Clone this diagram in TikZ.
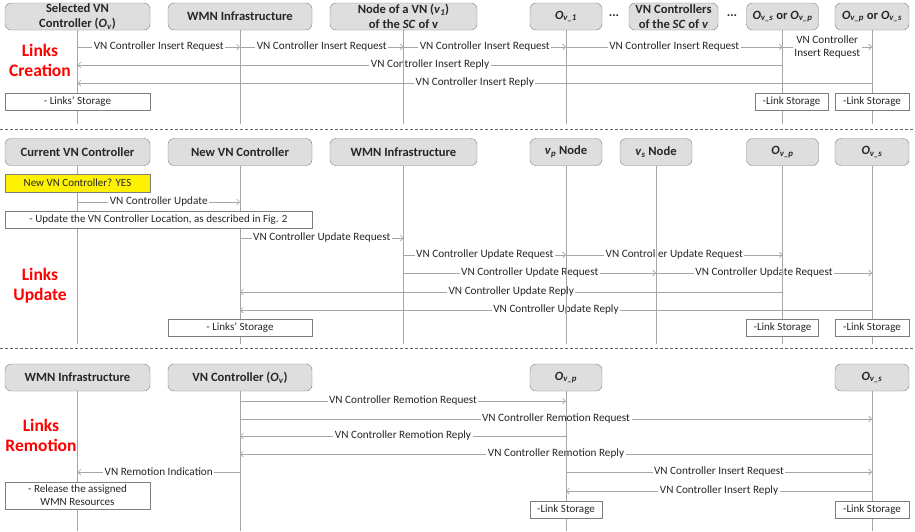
\documentclass[tikz,border=0pt]{standalone}
\usepackage{fontspec}
\setmainfont{Carlito}
\usetikzlibrary{arrows.meta}
\definecolor{hdrfill}{HTML}{DEDEDE}
\definecolor{linegray}{HTML}{A6A6A6}
\definecolor{boxline}{HTML}{7F7F7F}
\definecolor{txtgray}{HTML}{262626}
\tikzset{
  hdr/.style={draw=boxline, fill=hdrfill, rounded corners=6pt, minimum height=27pt, align=center, inner xsep=1pt, inner ysep=0pt, text=txtgray, font=\bfseries\fontsize{12.6}{14.5}\selectfont},
  note/.style={draw=boxline, fill=white, minimum height=17pt, align=center, inner xsep=1pt, inner ysep=0pt, text=txtgray, font=\fontsize{11}{13}\selectfont},
  life/.style={draw=linegray, line width=0.8pt},
  msg/.style={draw=linegray, line width=0.6pt, -{Straight Barb[length=3pt,width=6pt]}},
  lbl/.style={fill=white, inner xsep=1.5pt, inner ysep=0.5pt, text=txtgray, font=\fontsize{11.2}{12.5}\selectfont},
  phase/.style={text=red, align=center, font=\bfseries\fontsize{17.5}{20}\selectfont},
  sep/.style={draw=black!60, dash pattern=on 3pt off 2pt, line width=0.6pt}
}
\newcommand{\Ov}[1]{\textit{O}\textsubscript{\textit{#1}}}
\begin{document}
\begin{tikzpicture}[x=1pt,y=-1pt]
    \useasboundingbox (0,0) rectangle (915,531);
    % links creation
    \node[hdr, minimum width=145pt] (sel) at (77.5,16.5) {Selected VN\\Controller (\Ov{v})};
    \node[hdr, minimum width=144pt] (wmnA) at (240,16.5) {WMN Infrastructure};
    \node[hdr, minimum width=147pt] (vnA) at (403.5,16.5) {Node of a VN (\textit{v}\textsubscript{\textit{1}})\\of the \textit{SC} of v};
    \node[hdr, minimum width=72pt] (ovA) at (566,16.5) {\Ov{v\_1}};
    \node[text=txtgray, font=\bfseries\fontsize{13}{14}\selectfont] (dotA) at (614,16) {...};
    \node[hdr, minimum width=89pt] (scA) at (673.5,16.5) {VN Controllers\\of the \textit{SC} of \textit{v}};
    \node[text=txtgray, font=\bfseries\fontsize{13}{14}\selectfont] (dotB) at (732,16) {...};
    \node[hdr, minimum width=72pt] (osA) at (782.5,16.5) {\Ov{v\_s} or \Ov{v\_p}};
    \node[hdr, minimum width=74pt] (opA) at (872,16.5) {\Ov{v\_p} or \Ov{v\_s}};
    \node[phase] (phA) at (40,60) {Links\\Creation};
    \draw[msg] (sel |- 0,47) -- node[lbl] {VN Controller Insert Request} (wmnA |- 0,47);
    \draw[msg] (wmnA |- 0,47) -- node[lbl] {VN Controller Insert Request} (vnA |- 0,47);
    \draw[msg] (vnA |- 0,47) -- node[lbl] {VN Controller Insert Request} (ovA |- 0,47);
    \draw[msg] (ovA |- 0,47) -- node[lbl] {VN Controller Insert Request} (osA |- 0,47);
    \draw[msg] (osA |- 0,47) -- node[lbl, align=center] {VN Controller\\[1pt]Insert Request} (opA |- 0,47);
    \draw[msg] (osA |- 0,65) -- node[lbl] {VN Controller Insert Reply} (sel |- 0,65);
    \draw[msg] (opA |- 0,83) -- node[lbl] {VN Controller Insert Reply} (sel |- 0,83);
    \foreach \n in {sel,wmnA,vnA,ovA,osA,opA}
        \draw[life] (\n.south) -- (\n.south |- 0,124);
    \node[note, minimum width=145pt] (stA) at (77.5,102) {- Links’ Storage};
    \node[note, minimum width=73pt] (stB) at (791.5,102) {-Link Storage};
    \node[note, minimum width=74pt] (stC) at (872,102) {-Link Storage};
    \draw[sep] (0,129) -- (915,129);
    % links update
    \node[hdr, minimum width=145pt] (cur) at (77.5,152) {Current VN Controller};
    \node[hdr, minimum width=144pt] (new) at (240,152) {New VN Controller};
    \node[hdr, minimum width=147pt] (wmnB) at (403.5,152) {WMN Infrastructure};
    \node[hdr, minimum width=72pt] (vpB) at (566,152) {\textit{v}\textsubscript{\textit{p}} Node};
    \node[hdr, minimum width=72pt] (vsB) at (656,152) {\textit{v}\textsubscript{\textit{s}} Node};
    \node[hdr, minimum width=72pt] (opB) at (782.5,152) {\Ov{v\_p}};
    \node[hdr, minimum width=74pt] (osB) at (872,152) {\Ov{v\_s}};
    \node[phase] (phB) at (40,286) {Links\\Update};
    \draw[msg] (cur |- 0,202) -- node[lbl] {VN Controller Update} (new |- 0,202);
    \draw[msg] (new |- 0,238) -- node[lbl] {VN Controller Update Request} (wmnB |- 0,238);
    \draw[msg] (wmnB |- 0,255) -- node[lbl] {VN Controller Update Request} (vpB |- 0,255);
    \draw[msg] (vpB |- 0,255) -- node[lbl] {VN Controller Update Request} (opB |- 0,255);
    \draw[msg] (wmnB |- 0,273) -- node[lbl] {VN Controller Update Request} (vsB |- 0,273);
    \draw[msg] (vsB |- 0,273) -- node[lbl] {VN Controller Update Request} (osB |- 0,273);
    \draw[msg] (opB |- 0,292) -- node[lbl] {VN Controller Update Reply} (new |- 0,292);
    \draw[msg] (osB |- 0,310) -- node[lbl] {VN Controller Update Reply} (new |- 0,310);
    \foreach \n in {cur,new,wmnB,vpB,vsB,opB,osB}
        \draw[life] (\n.south) -- (\n.south |- 0,344);
    \node[note, fill=yellow, minimum width=145pt, minimum height=18pt] (ask) at (77.5,183) {New VN Controller? YES};
    \node[note, minimum width=307pt] (upd) at (158.5,219.5) {- Update the VN Controller Location, as described in Fig. 2};
    \node[note, minimum width=144pt] (stD) at (240,328) {- Links’ Storage};
    \node[note, minimum width=72pt] (stE) at (782.5,328) {-Link Storage};
    \node[note, minimum width=74pt] (stF) at (872,328) {-Link Storage};
    \draw[sep] (0,348) -- (915,348);
    % links remotion
    \node[hdr, minimum width=145pt] (wmnC) at (77.5,377.5) {WMN Infrastructure};
    \node[hdr, minimum width=144pt] (vncC) at (240,377.5) {VN Controller (\Ov{v})};
    \node[hdr, minimum width=72pt] (opC) at (566,377.5) {\Ov{v\_p}};
    \node[hdr, minimum width=74pt] (osC) at (872,377.5) {\Ov{v\_s}};
    \node[phase] (phC) at (41,435) {Links\\Remotion};
    \draw[msg] (vncC |- 0,401) -- node[lbl] {VN Controller Remotion Request} (opC |- 0,401);
    \draw[msg] (vncC |- 0,419) -- node[lbl] {VN Controller Remotion Request} (osC |- 0,419);
    \draw[msg] (opC |- 0,436) -- node[lbl] {VN Controller Remotion Reply} (vncC |- 0,436);
    \draw[msg] (osC |- 0,454) -- node[lbl] {VN Controller Remotion Reply} (vncC |- 0,454);
    \draw[msg] (vncC |- 0,472) -- node[lbl] {VN Remotion Indication} (wmnC |- 0,472);
    \draw[msg] (opC |- 0,472) -- node[lbl] {VN Controller Insert Request} (osC |- 0,472);
    \draw[msg] (osC |- 0,491) -- node[lbl] {VN Controller Insert Reply} (opC |- 0,491);
    \foreach \n in {wmnC,vncC,opC,osC}
        \draw[life] (\n.south) -- (\n.south |- 0,531);
    \node[note, minimum width=145pt, minimum height=27pt] (rel) at (77.5,495.5) {- Release the assigned\\WMN Resources};
    \node[note, minimum width=72pt] (stG) at (566,509.5) {-Link Storage};
    \node[note, minimum width=74pt] (stH) at (872,509.5) {-Link Storage};
\end{tikzpicture}
\end{document}
